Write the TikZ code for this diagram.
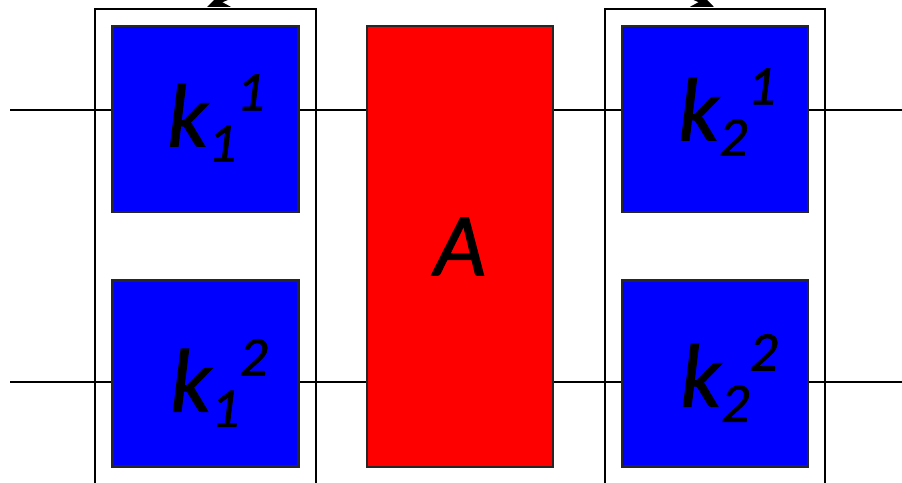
\documentclass[tikz,border=0pt]{standalone}
\usepackage{fontspec}
\setmainfont{Carlito}
\newfontfamily\labelfont{Carlito}[FakeBold=1.2]
\usetikzlibrary{arrows.meta}
\newcommand\lowidx[1]{\raisebox{-0.17em}{\fontsize{56}{56}\selectfont #1}}
\newcommand\highidx[1]{\raisebox{0.40em}{\fontsize{56}{56}\selectfont #1}}
\newcommand\kidx[2]{\textit{k\lowidx{#1}\highidx{#2}}}
\begin{document}
\begin{tikzpicture}[x=1pt,y=-1pt,
  wire/.style={line width=2.2pt},
  frame/.style={draw=black,line width=2.2pt},
  cell/.style={draw=black!85,line width=2.2pt,fill=blue,minimum width=186pt,minimum height=186pt,inner sep=0pt},
  core/.style={draw=black!85,line width=2.2pt,fill=red,minimum width=186pt,minimum height=441pt,inner sep=0pt,
    font=\labelfont\fontsize{90}{90}\selectfont\itshape},
  label/.style={font=\labelfont\fontsize{90}{90}\selectfont},
  looparrow/.style={line width=3pt,-{Stealth[length=22pt,width=18pt]}}]
\useasboundingbox (0,0) rectangle (902,482);
\clip (0,0) rectangle (902,482);
% outer frames
\draw[frame] (95,520) -- (95,9) -- (316,9) -- (316,520);
\draw[frame] (605,520) -- (605,9) -- (825,9) -- (825,520);
% wire ends
\coordinate (inA) at (10,110);
\coordinate (inB) at (10,382);
\coordinate (outA) at (902,110);
\coordinate (outB) at (902,382);
% wires (drawn first so boxes cover them)
\draw[wire] (inA) -- (outA);
\draw[wire] (inB) -- (outB);
% blocks
\node[cell] (k11) at (205.5,119) {};
\node[cell] (k12) at (205.5,373.5) {};
\node[core] (A) at (460,246.5) {A};
\node[cell] (k21) at (715,119) {};
\node[cell] (k22) at (715,373.5) {};
\node[label] at (216,118) {\kidx{1}{1}};
\node[label] at (219,383) {\kidx{1}{2}};
\node[label] at (727,112) {\kidx{2}{1}};
\node[label] at (729,378) {\kidx{2}{2}};
% arrows leaving the top edge
\coordinate (lt) at (207,7);
\coordinate (rt) at (714,7);
\draw[looparrow] (310,-50) .. controls (265,-17) .. (lt);
\draw[looparrow] (612,-50) .. controls (657,-17) .. (rt);
\end{tikzpicture}
\end{document}
